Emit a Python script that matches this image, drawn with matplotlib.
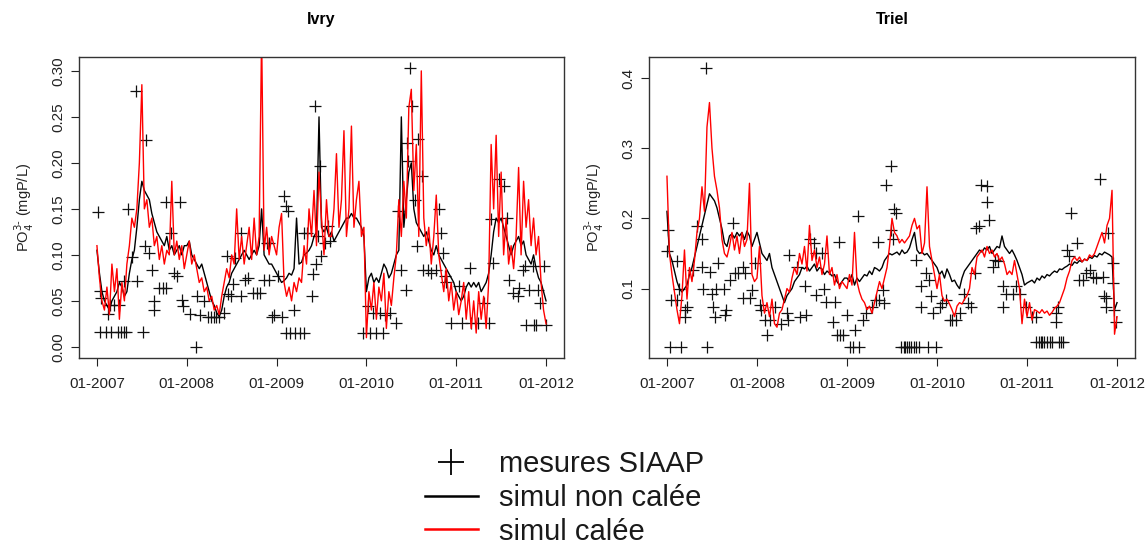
import numpy as np
import matplotlib.pyplot as plt
from matplotlib.lines import Line2D

plt.rcParams['font.family'] = ['Liberation Sans', 'DejaVu Sans']

# simulations : one value every 1/36 year, 01-2007 -> 01-2012
ivry_noncal = [
    0.105, 0.08, 0.06, 0.05, 0.045, 0.04, 0.05, 0.055, 0.06, 0.07, 0.065, 0.055, 0.06, 0.08, 0.095, 0.105, 0.13, 0.16,
    0.18, 0.17, 0.165, 0.16, 0.145, 0.135, 0.125, 0.12, 0.115, 0.11, 0.12, 0.105, 0.11, 0.1, 0.105, 0.11, 0.1, 0.11,
    0.11, 0.115, 0.1, 0.095, 0.09, 0.085, 0.09, 0.08, 0.07, 0.06, 0.05, 0.045, 0.037, 0.033, 0.04, 0.055, 0.065, 0.07,
    0.08, 0.085, 0.09, 0.095, 0.1, 0.105, 0.1, 0.095, 0.1, 0.105, 0.1, 0.11, 0.15, 0.1, 0.095, 0.09, 0.09, 0.085,
    0.08, 0.075, 0.07, 0.072, 0.075, 0.08, 0.078, 0.085, 0.14, 0.09, 0.092, 0.1, 0.102, 0.105, 0.11, 0.12, 0.125, 0.25,
    0.13, 0.125, 0.13, 0.12, 0.125, 0.115, 0.12, 0.125, 0.13, 0.135, 0.14, 0.14, 0.145, 0.14, 0.14, 0.135, 0.13, 0.12,
    0.06, 0.075, 0.08, 0.07, 0.075, 0.07, 0.08, 0.09, 0.085, 0.075, 0.08, 0.09, 0.1, 0.105, 0.25, 0.13, 0.16, 0.19,
    0.2, 0.15, 0.135, 0.13, 0.125, 0.12, 0.125, 0.115, 0.105, 0.1, 0.11, 0.1, 0.095, 0.09, 0.085, 0.08, 0.075, 0.07,
    0.06, 0.055, 0.05, 0.055, 0.065, 0.07, 0.065, 0.07, 0.065, 0.07, 0.06, 0.065, 0.07, 0.08, 0.1, 0.125, 0.14, 0.135,
    0.14, 0.13, 0.12, 0.11, 0.1, 0.11, 0.115, 0.12, 0.11, 0.115, 0.1, 0.095, 0.09, 0.1, 0.085, 0.075, 0.07, 0.06,
    0.05]
ivry_cal = [
    0.11, 0.075, 0.05, 0.04, 0.065, 0.035, 0.09, 0.06, 0.085, 0.03, 0.07, 0.05, 0.09, 0.11, 0.14, 0.13, 0.15, 0.2,
    0.285, 0.15, 0.16, 0.13, 0.14, 0.11, 0.12, 0.095, 0.11, 0.09, 0.105, 0.1, 0.18, 0.1, 0.115, 0.095, 0.11, 0.085,
    0.1, 0.115, 0.09, 0.1, 0.085, 0.07, 0.075, 0.06, 0.065, 0.05, 0.055, 0.04, 0.045, 0.035, 0.055, 0.07, 0.085, 0.075,
    0.1, 0.09, 0.15, 0.095, 0.12, 0.09, 0.11, 0.13, 0.095, 0.14, 0.1, 0.12, 0.34, 0.105, 0.13, 0.1, 0.12, 0.11,
    0.1, 0.13, 0.145, 0.07, 0.055, 0.065, 0.05, 0.07, 0.06, 0.075, 0.07, 0.11, 0.09, 0.15, 0.12, 0.17, 0.11, 0.19,
    0.14, 0.1, 0.16, 0.12, 0.12, 0.15, 0.21, 0.13, 0.16, 0.235, 0.12, 0.15, 0.24, 0.13, 0.16, 0.18, 0.12, 0.13,
    0.01, 0.06, 0.04, 0.07, 0.03, 0.065, 0.05, 0.08, 0.02, 0.06, 0.045, 0.075, 0.1, 0.16, 0.12, 0.18, 0.14, 0.26,
    0.28, 0.17, 0.22, 0.12, 0.3, 0.14, 0.11, 0.13, 0.09, 0.12, 0.165, 0.1, 0.08, 0.06, 0.085, 0.05, 0.07, 0.04,
    0.06, 0.035, 0.05, 0.07, 0.03, 0.06, 0.02, 0.05, 0.015, 0.06, 0.03, 0.055, 0.02, 0.07, 0.22, 0.15, 0.23, 0.12,
    0.19, 0.1, 0.14, 0.09, 0.11, 0.085, 0.12, 0.195, 0.1, 0.18, 0.13, 0.16, 0.11, 0.14, 0.1, 0.12, 0.07, 0.04,
    0.025]
triel_noncal = [
    0.21, 0.15, 0.14, 0.125, 0.11, 0.1, 0.095, 0.1, 0.105, 0.12, 0.13, 0.145, 0.16, 0.175, 0.19, 0.205, 0.22, 0.235,
    0.23, 0.225, 0.215, 0.2, 0.185, 0.165, 0.16, 0.175, 0.178, 0.172, 0.18, 0.175, 0.18, 0.17, 0.182, 0.175, 0.16, 0.17,
    0.18, 0.165, 0.15, 0.145, 0.14, 0.15, 0.13, 0.12, 0.11, 0.1, 0.09, 0.08, 0.09, 0.095, 0.1, 0.11, 0.115, 0.12,
    0.13, 0.128, 0.132, 0.125, 0.13, 0.135, 0.125, 0.13, 0.128, 0.12, 0.125, 0.122, 0.118, 0.12, 0.11, 0.105, 0.11, 0.115,
    0.115, 0.11, 0.12, 0.105, 0.115, 0.11, 0.115, 0.12, 0.118, 0.125, 0.12, 0.13, 0.128, 0.125, 0.13, 0.14, 0.145, 0.15,
    0.148, 0.15, 0.152, 0.148, 0.155, 0.15, 0.152, 0.158, 0.17, 0.18, 0.155, 0.15, 0.152, 0.148, 0.15, 0.145, 0.14, 0.135,
    0.13, 0.12, 0.125, 0.115, 0.128, 0.12, 0.11, 0.112, 0.105, 0.1, 0.115, 0.125, 0.13, 0.135, 0.14, 0.145, 0.15, 0.155,
    0.152, 0.158, 0.155, 0.16, 0.15, 0.155, 0.16, 0.158, 0.175, 0.16, 0.155, 0.15, 0.155, 0.148, 0.14, 0.13, 0.12, 0.105,
    0.108, 0.11, 0.112, 0.108, 0.115, 0.112, 0.118, 0.115, 0.12, 0.118, 0.122, 0.125, 0.123, 0.128, 0.127, 0.13, 0.132, 0.135,
    0.133, 0.138, 0.136, 0.14, 0.138, 0.142, 0.14, 0.145, 0.143, 0.147, 0.145, 0.15, 0.148, 0.152, 0.15, 0.148, 0.145, 0.07,
    0.08]
triel_cal = [
    0.26, 0.15, 0.12, 0.095, 0.07, 0.05, 0.09, 0.155, 0.085, 0.13, 0.11, 0.14, 0.18, 0.2, 0.245, 0.21, 0.33, 0.365,
    0.3, 0.26, 0.24, 0.215, 0.17, 0.15, 0.145, 0.16, 0.18, 0.155, 0.175, 0.15, 0.18, 0.16, 0.17, 0.25, 0.12, 0.11,
    0.115, 0.16, 0.09, 0.065, 0.08, 0.06, 0.085, 0.05, 0.045, 0.065, 0.07, 0.085, 0.1, 0.095, 0.115, 0.13, 0.12, 0.15,
    0.135, 0.16, 0.125, 0.19, 0.14, 0.155, 0.13, 0.145, 0.12, 0.135, 0.175, 0.12, 0.13, 0.105, 0.12, 0.1, 0.11, 0.105,
    0.1, 0.12, 0.105, 0.18, 0.11, 0.095, 0.085, 0.08, 0.07, 0.075, 0.065, 0.08, 0.095, 0.11, 0.1, 0.115, 0.13, 0.16,
    0.2, 0.18, 0.175, 0.165, 0.17, 0.165, 0.17, 0.175, 0.19, 0.2, 0.185, 0.19, 0.15, 0.165, 0.245, 0.16, 0.14, 0.12,
    0.1, 0.12, 0.09, 0.082, 0.085, 0.078, 0.07, 0.06, 0.075, 0.08, 0.078, 0.085, 0.09, 0.1, 0.13, 0.12, 0.145, 0.15,
    0.155, 0.145, 0.16, 0.15, 0.155, 0.145, 0.15, 0.14, 0.145, 0.135, 0.12, 0.125, 0.12, 0.14, 0.12, 0.1, 0.05, 0.085,
    0.06, 0.08, 0.055, 0.07, 0.068, 0.065, 0.07, 0.065, 0.068, 0.062, 0.066, 0.072, 0.075, 0.08, 0.09, 0.1, 0.115, 0.125,
    0.14, 0.145, 0.14, 0.145, 0.138, 0.142, 0.14, 0.148, 0.145, 0.15, 0.16, 0.17, 0.18, 0.165, 0.19, 0.2, 0.24, 0.035,
    0.06]
t_sim = 2007 + np.arange(len(ivry_noncal)) / 36.0

# mesures SIAAP (date en annee decimale, PO4 mgP/L)
ivry_obs_t = [2007.01, 2007.03, 2007.04, 2007.03, 2007.10, 2007.16, 2007.23, 2007.27, 2007.30, 2007.32, 2007.12,
              2007.14, 2007.19, 2007.24, 2007.30, 2007.35, 2007.39, 2007.43, 2007.45, 2007.51, 2007.54, 2007.55,
              2007.58, 2007.61, 2007.64, 2007.64, 2007.69, 2007.73, 2007.77, 2007.77, 2007.82, 2007.86, 2007.89,
              2007.93, 2007.95, 2007.96, 2008.04, 2008.10, 2008.11, 2008.15, 2008.19, 2008.24, 2008.27, 2008.30,
              2008.33, 2008.36, 2008.41, 2008.45, 2008.46, 2008.49, 2008.52, 2008.54, 2008.60, 2008.60, 2008.65,
              2008.68, 2008.74, 2008.78, 2008.82, 2008.86, 2008.89, 2008.92, 2008.92, 2008.95, 2008.97, 2009.02,
              2009.06, 2009.08, 2009.10, 2009.13, 2009.10, 2009.15, 2009.21, 2009.26, 2009.31, 2009.19, 2009.30,
              2009.34, 2009.39, 2009.41, 2009.44, 2009.43, 2009.48, 2009.46, 2009.50, 2009.54, 2009.57, 2009.59,
              2009.96, 2010.04, 2010.11, 2010.19, 2010.02, 2010.07, 2010.15, 2010.21, 2010.26, 2010.33, 2010.35,
              2010.39, 2010.44, 2010.45, 2010.46, 2010.49, 2010.51, 2010.54, 2010.56, 2010.57, 2010.62, 2010.63,
              2010.69, 2010.72, 2010.78, 2010.81, 2010.83, 2010.85, 2010.87, 2010.89, 2010.94, 2011.03, 2011.06,
              2011.15, 2011.17, 2011.24, 2011.31, 2011.37, 2011.39, 2011.41, 2011.48, 2011.53, 2011.57, 2011.59,
              2011.63, 2011.69, 2011.70, 2011.74, 2011.77, 2011.78, 2011.81, 2011.85, 2011.87, 2011.89, 2011.91,
              2011.93, 2011.98, 2012.00]
ivry_obs_v = [0.147, 0.061, 0.053, 0.016, 0.016, 0.016, 0.016, 0.016, 0.016, 0.016, 0.036,
              0.046, 0.046, 0.045, 0.072, 0.150, 0.098, 0.278, 0.072, 0.016, 0.110, 0.225,
              0.102, 0.084, 0.050, 0.040, 0.064, 0.064, 0.064, 0.157, 0.124, 0.080, 0.077,
              0.157, 0.051, 0.044, 0.036, 0.000, 0.055, 0.035, 0.050, 0.032, 0.032, 0.032,
              0.032, 0.032, 0.037, 0.099, 0.057, 0.055, 0.068, 0.097, 0.124, 0.055, 0.073,
              0.075, 0.059, 0.059, 0.059, 0.073, 0.113, 0.113, 0.073, 0.033, 0.035, 0.077,
              0.033, 0.164, 0.153, 0.148, 0.015, 0.015, 0.015, 0.015, 0.015, 0.040, 0.124,
              0.124, 0.055, 0.079, 0.090, 0.262, 0.197, 0.120, 0.099, 0.113, 0.131, 0.115,
              0.015, 0.015, 0.015, 0.015, 0.044, 0.037, 0.037, 0.035, 0.037, 0.026, 0.148,
              0.084, 0.062, 0.222, 0.202, 0.303, 0.262, 0.160, 0.110, 0.226, 0.186, 0.084,
              0.084, 0.080, 0.084, 0.150, 0.124, 0.102, 0.077, 0.070, 0.026, 0.066, 0.026,
              0.086, 0.026, 0.026, 0.048, 0.026, 0.139, 0.091, 0.182, 0.175, 0.140, 0.073,
              0.059, 0.055, 0.064, 0.084, 0.088, 0.024, 0.062, 0.088, 0.024, 0.024, 0.062,
              0.048, 0.088, 0.024]

triel_obs_t = [2007.00, 2007.01, 2007.03, 2007.16, 2007.05, 2007.11, 2007.13, 2007.11, 2007.20, 2007.20, 2007.22,
               2007.29, 2007.33, 2007.39, 2007.39, 2007.40, 2007.43, 2007.44, 2007.48, 2007.50, 2007.51, 2007.53,
               2007.55, 2007.57, 2007.63, 2007.66, 2007.64, 2007.70, 2007.73, 2007.76, 2007.79, 2007.85, 2007.87,
               2007.84, 2007.92, 2007.94, 2007.98, 2008.03, 2008.05, 2008.11, 2008.09, 2008.14, 2008.20, 2008.27,
               2008.33, 2008.36, 2008.35, 2008.44, 2008.48, 2008.53, 2008.55, 2008.59, 2008.63, 2008.66, 2008.66,
               2008.72, 2008.74, 2008.77, 2008.85, 2008.87, 2008.89, 2008.91, 2008.92, 2008.96, 2009.00, 2009.03,
               2009.07, 2009.13, 2009.09, 2009.12, 2009.18, 2009.21, 2009.28, 2009.32, 2009.36, 2009.35, 2009.41,
               2009.40, 2009.43, 2009.49, 2009.49, 2009.52, 2009.54, 2009.51, 2009.60, 2009.63, 2009.65, 2009.67,
               2009.69, 2009.71, 2009.74, 2009.77, 2009.80, 2009.90, 2009.99, 2009.77, 2009.82, 2009.88, 2009.91,
               2009.93, 2009.82, 2009.95, 2010.03, 2010.06, 2010.10, 2010.14, 2010.17, 2010.21, 2010.25, 2010.30,
               2010.34, 2010.38, 2010.42, 2010.43, 2010.47, 2010.49, 2010.55, 2010.56, 2010.58, 2010.62, 2010.64,
               2010.68, 2010.73, 2010.73, 2010.77, 2010.84, 2010.88, 2010.92, 2010.99, 2011.06, 2011.10, 2011.10,
               2011.13, 2011.15, 2011.17, 2011.19, 2011.22, 2011.25, 2011.28, 2011.36, 2011.38, 2011.40, 2011.32,
               2011.32, 2011.34, 2011.44, 2011.47, 2011.49, 2011.55, 2011.58, 2011.62, 2011.66, 2011.70, 2011.73,
               2011.77, 2011.81, 2011.84, 2011.86, 2011.88, 2011.88, 2011.90, 2011.96, 2011.96, 2011.97, 2011.99]
triel_obs_v = [0.153, 0.184, 0.017, 0.017, 0.084, 0.139, 0.100, 0.084, 0.070, 0.060, 0.074,
               0.127, 0.189, 0.170, 0.131, 0.100, 0.414, 0.017, 0.124, 0.093, 0.074, 0.060,
               0.100, 0.136, 0.100, 0.070, 0.062, 0.112, 0.193, 0.122, 0.122, 0.131, 0.122,
               0.086, 0.086, 0.098, 0.136, 0.077, 0.070, 0.034, 0.055, 0.055, 0.074, 0.050,
               0.065, 0.148, 0.055, 0.131, 0.060, 0.103, 0.062, 0.170, 0.165, 0.150, 0.091,
               0.150, 0.100, 0.081, 0.053, 0.081, 0.034, 0.167, 0.034, 0.034, 0.062, 0.017,
               0.017, 0.017, 0.041, 0.203, 0.055, 0.065, 0.074, 0.084, 0.084, 0.167, 0.079,
               0.098, 0.248, 0.275, 0.184, 0.213, 0.208, 0.170, 0.017, 0.017, 0.017, 0.017,
               0.017, 0.017, 0.017, 0.017, 0.017, 0.017, 0.017, 0.141, 0.103, 0.122, 0.112,
               0.089, 0.074, 0.065, 0.074, 0.079, 0.084, 0.055, 0.055, 0.055, 0.065, 0.093,
               0.079, 0.074, 0.122, 0.186, 0.189, 0.248, 0.246, 0.224, 0.198, 0.131, 0.141,
               0.139, 0.103, 0.074, 0.093, 0.093, 0.103, 0.093, 0.074, 0.060, 0.060, 0.024,
               0.024, 0.024, 0.024, 0.024, 0.024, 0.024, 0.024, 0.024, 0.024, 0.024, 0.065,
               0.053, 0.074, 0.155, 0.146, 0.208, 0.165, 0.112, 0.112, 0.122, 0.127, 0.117,
               0.115, 0.256, 0.117, 0.089, 0.086, 0.074, 0.179, 0.136, 0.108, 0.070, 0.053]

year_ticks = [2007, 2008, 2009, 2010, 2011, 2012]
year_labels = ['01-2007', '01-2008', '01-2009', '01-2010', '01-2011', '01-2012']
ivry_yticks = [0.0, 0.05, 0.10, 0.15, 0.20, 0.25, 0.30]
triel_yticks = [0.1, 0.2, 0.3, 0.4]


def panel(ax, title, obs_t, obs_v, noncal, cal, yticks, fmt):
    ax.plot(obs_t, obs_v, ls='none', marker='+', ms=8.5, mew=0.9, color='#111111')
    ax.plot(t_sim, noncal, color='black', lw=1)
    ax.plot(t_sim, cal, color='red', lw=1)
    lo, hi = min(obs_v), max(obs_v)
    pad = 0.04 * (hi - lo)
    ax.set_ylim(lo - pad, hi + pad)
    ax.set_xlim(2006.8, 2012.2)
    ax.set_xticks(year_ticks)
    ax.set_xticklabels(year_labels)
    ax.set_yticks(yticks)
    ax.set_yticklabels([fmt % v for v in yticks], rotation=90, va='center')
    ax.tick_params(direction='out', length=6, width=0.8, labelsize=11, pad=4, colors='#222222')
    ax.tick_params(axis='x', pad=8)
    for s in ax.spines.values():
        s.set_linewidth(1)
        s.set_color('#333333')
    ax.set_title(title, fontweight='bold', fontsize=11.5, pad=24)
    ax.set_ylabel('PO$_4^{3\\text{-}}$ (mgP/L)', fontsize=10.5, color='#222222', labelpad=11)


fig = plt.figure(figsize=(11.48, 5.48), dpi=100)
ax1 = fig.add_axes([0.0688, 0.3467, 0.4225, 0.5493])
ax2 = fig.add_axes([0.5653, 0.3467, 0.4234, 0.5493])

panel(ax1, 'Ivry', ivry_obs_t, ivry_obs_v, ivry_noncal, ivry_cal, ivry_yticks, '%.2f')
panel(ax2, 'Triel', triel_obs_t, triel_obs_v, triel_noncal, triel_cal, triel_yticks, '%.1f')

handles = [Line2D([], [], ls='none', marker='+', ms=19, mew=1.3, color='black'),
           Line2D([], [], color='black', lw=1.8),
           Line2D([], [], color='red', lw=1.8)]
labels = ['mesures SIAAP', 'simul non calée', 'simul calée']
fig.legend(handles, labels, loc='upper left', bbox_to_anchor=(425 / 1148, 1 - 450 / 548),
           frameon=False, borderpad=0, borderaxespad=0, handlelength=1.8, handletextpad=0.75,
           labelspacing=0.2, fontsize=21, labelcolor='#1a1a1a')

fig.savefig('out.png', dpi=100)
